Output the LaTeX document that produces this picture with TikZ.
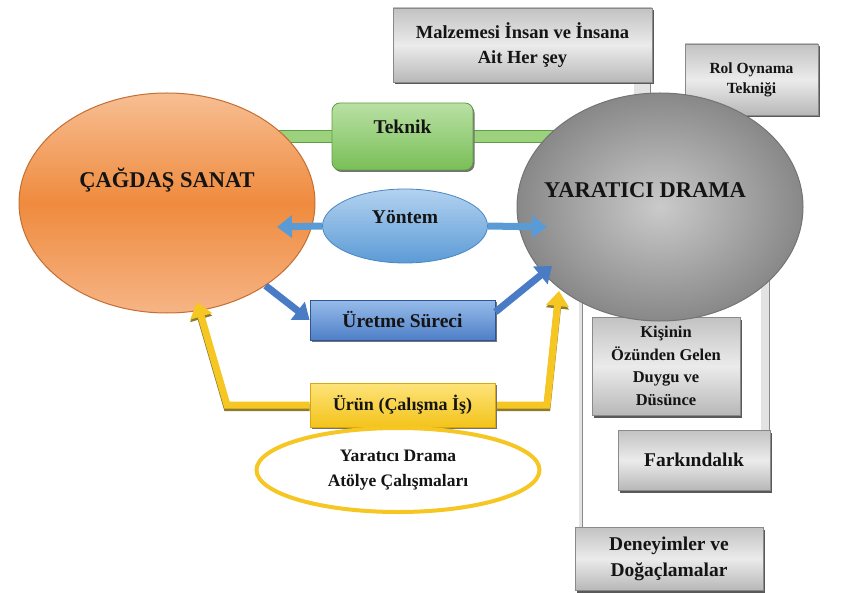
\documentclass[tikz,border=0pt]{standalone}
\usepackage{fontspec}
\setmainfont{Liberation Serif}
\usetikzlibrary{shapes.geometric,arrows.meta,shadows}
\definecolor{orTop}{HTML}{F7BE93}
\definecolor{orMid}{HTML}{EF8B3E}
\definecolor{orBot}{HTML}{F6B485}
\definecolor{orBorder}{HTML}{C46E32}
\definecolor{gyIn}{HTML}{CACACA}
\definecolor{gyOut}{HTML}{888888}
\definecolor{gyBorder}{HTML}{747474}
\definecolor{grTop}{HTML}{B9E0A4}
\definecolor{grBot}{HTML}{79BF57}
\definecolor{grBorder}{HTML}{5E9E43}
\definecolor{grBar}{HTML}{9CD27E}
\definecolor{blTop}{HTML}{B3D2F0}
\definecolor{blBot}{HTML}{5C9BD6}
\definecolor{blBorder}{HTML}{4A86C0}
\definecolor{ueTop}{HTML}{97BCEA}
\definecolor{ueBot}{HTML}{4E7FC7}
\definecolor{ueBorder}{HTML}{2F5597}
\definecolor{arDark}{HTML}{4A7CC6}
\definecolor{arLight}{HTML}{5B9BD5}
\definecolor{yel}{HTML}{F6C622}
\definecolor{yelShadow}{HTML}{8C7A2E}
\definecolor{yelTop}{HTML}{FDE37A}
\definecolor{yelBot}{HTML}{F4C41B}
\definecolor{yelBorder}{HTML}{D9A80E}
\definecolor{gbTop}{HTML}{C2C2C2}
\definecolor{gbMid}{HTML}{EBEBEB}
\definecolor{gbBot}{HTML}{B8B8B8}
\definecolor{gbBorder}{HTML}{8A8A8A}
\definecolor{txt}{HTML}{141414}
\pgfdeclarelayer{bglayer}
\pgfdeclarelayer{fglayer}
\pgfsetlayers{bglayer,main,fglayer}
\begin{document}
\begin{tikzpicture}[x=1pt,y=1pt,
  every node/.style={text=txt},
  graybox/.style={rectangle, draw=gbBorder, line width=0.6pt,
    top color=gbTop, bottom color=gbBot, middle color=gbMid,
    inner sep=2pt, align=center,
    drop shadow={shadow xshift=2pt, shadow yshift=-2.5pt, fill=black!65, opacity=1}},
  bigtext/.style={font=\bfseries\fontsize{22.5}{26}\selectfont},
  midtext/.style={font=\bfseries\fontsize{19.5}{22}\selectfont},
  graybar/.style={draw=gbBorder, line width=0.8pt, double=gbMid!80!gbTop},
  gbar/.style={draw=grBorder, line width=1.4pt, double=grBar, double distance=11pt},
  lightarrow/.style={draw=arLight, line width=7pt, -{Triangle[length=15pt,width=22pt]}},
  darkarrow/.style={draw=arDark, line width=7pt, -{Triangle[length=15pt,width=22pt]}},
  yelarrow/.style={draw=yel, line width=7pt, line join=miter,
    preaction={draw=yelShadow, line width=7pt, transform canvas={yshift=-2.5pt}},
    -{Triangle[length=15pt,width=22pt]}},
  subshadow/.style={drop shadow={shadow xshift=1.5pt, shadow yshift=-2pt, fill=black!55, opacity=1}}
]
\useasboundingbox (0,0) rectangle (850,-593);

% gray boxes
\node[graybox, minimum width=259pt, minimum height=74pt,
  font=\bfseries\fontsize{18.5}{25}\selectfont] (malz) at (522.5,-45)
  {Malzemesi İnsan ve İnsana\\Ait Her şey};
\node[graybox, minimum width=133pt, minimum height=71pt,
  font=\bfseries\fontsize{15.5}{20}\selectfont] (rol) at (751.5,-79.5)
  {Rol Oynama\\Tekniği};
\node[graybox, minimum width=148pt, minimum height=98pt,
  font=\bfseries\fontsize{16.5}{22.5}\selectfont] (kisi) at (666,-366)
  {Kişinin\\Özünden Gelen\\Duygu ve\\Düsünce};
\node[graybox, minimum width=152pt, minimum height=60pt,
  font=\bfseries\fontsize{19.5}{22}\selectfont] (fark) at (694,-460)
  {Farkındalık};
\node[graybox, minimum width=188pt, minimum height=63pt,
  font=\bfseries\fontsize{19.5}{26}\selectfont] (deney) at (669,-558.5)
  {Deneyimler ve\\Doğaçlamalar};

% main ellipses
\node[ellipse, draw=orBorder, line width=1pt, top color=orTop, bottom color=orBot,
  middle color=orMid, minimum width=296pt, minimum height=220pt, inner sep=0pt,
  label={[name=cslabel, bigtext, yshift=23pt]center:ÇAĞDAŞ SANAT}] (cs) at (167,-203) {};
\node[ellipse, draw=gyBorder, line width=1pt, shading=radial, inner color=gyIn,
  outer color=gyOut, minimum width=286pt, minimum height=228pt, inner sep=0pt,
  label={[name=ydlabel, bigtext, xshift=-15pt, yshift=17pt]center:YARATICI DRAMA}] (yd) at (660,-207) {};

% middle nodes
\node[rectangle, rounded corners=8pt, draw=grBorder, line width=0.8pt,
  top color=grTop, bottom color=grBot, minimum width=141pt, minimum height=67pt,
  subshadow, label={[name=tklabel, midtext, yshift=10pt]center:Teknik}] (teknik) at (402.5,-136.5) {};
\node[ellipse, draw=blBorder, line width=0.8pt, top color=blTop, bottom color=blBot,
  minimum width=165pt, minimum height=74pt, inner sep=0pt,
  label={[name=ytlabel, midtext, yshift=9pt]center:Yöntem}] (yontem) at (405,-226) {};
\node[rectangle, draw=ueBorder, line width=0.8pt, top color=ueTop, bottom color=ueBot,
  minimum width=185pt, minimum height=40pt, subshadow,
  font=\bfseries\fontsize{19.5}{22}\selectfont] (uretme) at (402.5,-320) {Üretme Süreci};

\begin{pgfonlayer}{fglayer}
\node[rectangle, draw=yelBorder, line width=0.6pt, top color=yelTop, bottom color=yelBot,
  minimum width=185pt, minimum height=44pt, subshadow,
  font=\bfseries\fontsize{18}{21}\selectfont] (urun) at (402.5,-405) {Ürün (Çalışma İş)};
\node[ellipse, draw=yel, line width=4pt, fill=white, minimum width=283pt,
  minimum height=84pt, inner sep=0pt, align=center,
  font=\bfseries\fontsize{17.5}{25}\selectfont] (atolye) at (398,-470)
  {Yaratıcı Drama\\Atölye Çalışmaları};
\end{pgfonlayer}

% free ends
\coordinate (ytipL) at (277,-227);
\coordinate (ytipR) at (547,-227);
\coordinate (utipR) at (552,-266);
\coordinate (yL) at (227,-405);
\coordinate (yR) at (547,-405);
\coordinate (ytipCs) at (197,-302);
\coordinate (ytipYd) at (559,-291);

% background connectors
\begin{pgfonlayer}{bglayer}
\draw[graybar, double distance=16pt] ([xshift=-10pt]malz.south east) -- ([xshift=-10pt]malz.south east |- yd.center);
\draw[graybar, double distance=8pt] ([xshift=-5pt]fark.north east) -- ([xshift=-5pt]fark.north east |- yd.center);
\draw[graybar, double distance=2.5pt] ([xshift=6pt]deney.north west) -- ([xshift=6pt]deney.north west |- yd.center);
\draw[gbar] (teknik.center -| cs.center) -- (teknik.center -| yd.center);
\end{pgfonlayer}

% arrows
\draw[lightarrow] (yontem.west) -- (ytipL);
\draw[lightarrow] (yontem.east) -- (ytipR);
\draw[darkarrow] (cs.-40) -- (uretme.west);
\draw[darkarrow] ([yshift=8pt]uretme.east) -- (utipR);
\draw[yelarrow] (urun.west) -- (yL) -- (ytipCs);
\draw[yelarrow] (urun.east) -- (yR) -- (ytipYd);
\end{tikzpicture}
\end{document}
